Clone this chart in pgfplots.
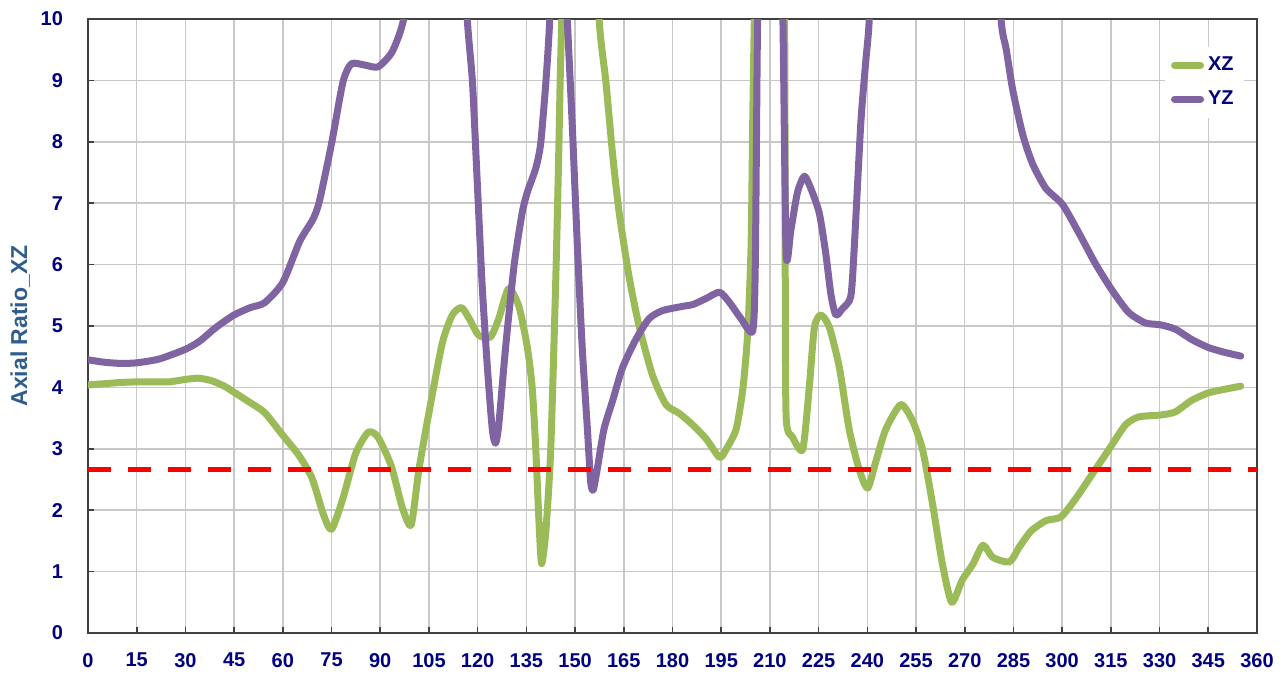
\documentclass[border=0pt]{standalone}
\usepackage{fontspec}
\setmainfont{Liberation Sans}
\usepackage{pgfplots}
\pgfplotsset{compat=1.18}
\definecolor{xzgreen}{RGB}{155,187,89}
\definecolor{yzpurple}{RGB}{128,100,162}
\definecolor{ticknavy}{RGB}{0,0,128}
\definecolor{labelblue}{RGB}{47,93,140}
\definecolor{gridgray}{RGB}{200,200,200}
\definecolor{axisgray}{RGB}{64,64,64}
\begin{document}
\begin{tikzpicture}
\useasboundingbox (-44pt,-22pt) rectangle (599pt,316.5pt);
\begin{axis}[
  scale only axis, width=584.5pt, height=307pt,
  xmin=0, xmax=360, ymin=0, ymax=10,
  xtick={0,15,...,360}, ytick={0,1,...,10},
  grid=major, major grid style={gridgray, line width=0.75pt},
  axis line style={axisgray, line width=0.8pt},
  tick style={axisgray, line width=0.8pt}, major tick length=3pt,
  tick pos=left, tick align=inside,
  /pgf/number format/assume math mode=true,
  ticklabel style={font=\fontsize{10}{12}\selectfont\bfseries, text=ticknavy},
  xticklabel style={yshift=-6.5pt},
  yticklabel style={xshift=-9pt},
  ylabel={Axial Ratio\_XZ},
  ylabel style={font=\fontsize{11.5}{13}\selectfont\bfseries, text=labelblue,
    at={(axis description cs:-0.058,0.5)}, anchor=center},
  legend style={at={(axis description cs:0.921,0.955)}, anchor=north west,
    draw=none, fill=white, font=\fontsize{10}{12}\selectfont\bfseries,
    text=ticknavy, row sep=4.5pt, inner xsep=3pt, inner ysep=3pt},
  legend cell align=left,
  legend image code/.code={\draw[#1, line width=3.5pt, line cap=round] (0pt,0pt) -- (13pt,0pt);},
]
\addplot[xzgreen, line width=3.5pt, line cap=round, line join=round, smooth, tension=0.4] coordinates {
(0,4.04) (5,4.06) (10,4.08) (15,4.09) (20,4.09) (25,4.09) (30,4.13) (34,4.15) (38,4.11)
(42,4.02) (45,3.92) (50,3.75) (54.4,3.59) (60,3.22) (65,2.89) (69,2.52) (72.5,1.93)
(75,1.69) (78.5,2.19) (82.4,2.92) (86.3,3.27) (89.3,3.19) (93.4,2.72) (96.7,2.06)
(99.5,1.76) (101.9,2.66) (105,3.59) (109.1,4.72) (112.2,5.18) (115,5.30) (117.4,5.12)
(120.3,4.85) (123.9,4.82) (126.5,5.12) (129.5,5.61) (132.7,5.32) (135.3,4.65)
(136.8,3.99) (137.9,2.99) (138.9,1.79) (139.7,1.13) (141,1.66) (142.5,2.99) (144,5.65)
(144.9,7.64) (145.4,8.97) (145.9,10) (147,12) (152,14) (156.5,12) (157.4,10)
(159.5,8.97) (161.6,7.77) (163.6,6.84) (166.7,5.78) (169.8,4.98) (173.9,4.19)
(178,3.72) (182,3.58) (186,3.40) (190.4,3.16) (194.5,2.86) (196.5,2.99) (199.6,3.32)
(201.7,3.99) (203.2,4.92) (204.2,6.31) (204.7,8.31) (205.2,10) (206,12) (213,12)
(214.5,10) (214.7,6.18) (215,3.52) (217,3.19) (220.1,2.99) (222.1,3.99) (223.7,4.98)
(225.7,5.18) (228.3,4.98) (231.4,4.32) (234.4,3.32) (237.5,2.66) (240.1,2.36)
(242.6,2.79) (245.7,3.32) (250.3,3.72) (253.9,3.46) (257,2.99) (260,2.13) (263.1,1.13)
(266,0.50) (269.2,0.86) (272.6,1.13) (275.6,1.43) (278.7,1.23) (283.8,1.16) (286.8,1.40)
(290.4,1.66) (295,1.83) (299.6,1.89) (304.2,2.19) (309.3,2.59) (314.4,2.99) (319.5,3.39)
(323.6,3.52) (330.2,3.55) (334.8,3.60) (339.9,3.79) (345,3.91) (350.1,3.97) (355,4.02)
};
\addlegendentry{XZ}
\addplot[yzpurple, line width=3.5pt, line cap=round, line join=round, smooth, tension=0.4] coordinates {
(0,4.45) (5,4.41) (10.3,4.39) (15,4.40) (20,4.44) (23,4.48) (30,4.62) (34.3,4.75)
(39.5,4.98) (45,5.18) (50,5.30) (54.4,5.38) (60,5.71) (65.2,6.38) (69.3,6.74) (71.3,7.04)
(75,7.97) (78.5,8.97) (81.1,9.27) (85.2,9.25) (89.3,9.22) (93.5,9.45) (96.5,9.85)
(98.5,10.4) (100,12) (110,14) (115,12) (116.8,10) (118.4,8.97) (119.9,7.31) (121.4,5.65) (123,4.32)
(124.5,3.32) (125.5,3.09) (126.5,3.39) (128.6,4.65) (131.2,5.98) (133.7,6.84)
(135.3,7.18) (137.9,7.57) (139.4,7.97) (141,8.97) (142.2,10) (143.5,12) (146,12)
(147.6,10) (149.1,8.31) (150.7,6.31) (152.2,4.65) (153.8,3.32) (154.8,2.46) (155.6,2.33)
(156.8,2.66) (158.9,3.32) (161.6,3.79) (164.6,4.32) (168.7,4.78) (172.8,5.12)
(176.9,5.25) (183.1,5.32) (186.3,5.35) (190.4,5.45) (194.5,5.55) (197.6,5.38)
(201.1,5.12) (204.7,4.92) (205.5,6.0) (206.2,10) (207,12) (213,12) (214,10) (215,6.18)
(216.5,6.58) (218.5,7.18) (220.6,7.44) (222.6,7.24) (225.2,6.84) (227.2,6.18)
(228.8,5.51) (230.3,5.18) (232.3,5.28) (234.9,5.48) (236,6.3) (238,8.31) (239.5,9.30)
(240.6,10) (242,12) (280,12) (281.2,10) (282.8,9.5) (284.8,8.84) (287.9,8.11)
(290.9,7.64) (295,7.24) (300.1,6.98) (305.2,6.51) (310.3,6.01) (315.4,5.58) (320.5,5.22)
(325.6,5.05) (330.2,5.02) (334.8,4.95) (339.9,4.78) (345,4.65) (350.1,4.57) (355,4.51)
};
\addlegendentry{YZ}
\addplot[red, line width=2.5pt, dash pattern=on 11.3pt off 8.7pt, forget plot] coordinates {(0,2.67) (360,2.67)};
\end{axis}
\end{tikzpicture}
\end{document}
